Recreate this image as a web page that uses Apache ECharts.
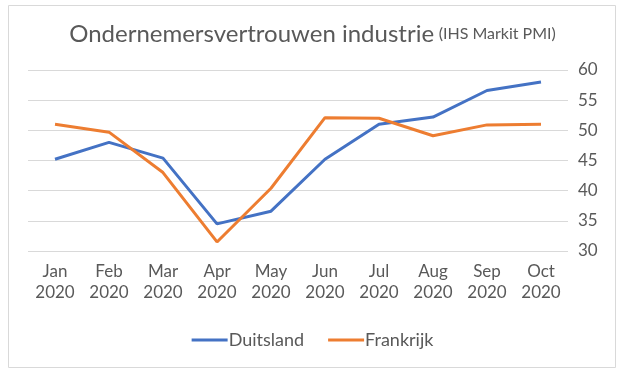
<!DOCTYPE html>
<html><head><meta charset="utf-8">
<script src="https://cdn.jsdelivr.net/npm/echarts@6/dist/echarts.min.js"></script>
<style>html,body{margin:0;padding:0;background:#fff}#c{width:625px;height:375px}</style>
</head><body><div id="c"></div>
<script>
var months = ['Jan\n2020','Feb\n2020','Mar\n2020','Apr\n2020','May\n2020','Jun\n2020','Jul\n2020','Aug\n2020','Sep\n2020','Oct\n2020'];
var duitsland = [45.2, 48.0, 45.4, 34.5, 36.6, 45.2, 51.0, 52.2, 56.6, 58.0];
var frankrijk = [51.0, 49.7, 43.0, 31.5, 40.4, 52.1, 52.0, 49.1, 50.9, 51.0];
var yTicks = {min: 30, max: 60, interval: 5};

var chart = echarts.init(document.getElementById('c'));
var font = 'Lato, "Liberation Sans", sans-serif';
chart.setOption({
  animation: false,
  textStyle: {fontFamily: font},
  graphic: [{type: 'rect', shape: {x: 8.5, y: 5.5, width: 607, height: 362}, style: {fill: 'none', stroke: '#d9d9d9', lineWidth: 1}, z: -1}],
  title: {
    text: '{a|Ondernemersvertrouwen industrie} {b|(IHS Markit PMI)}',
    left: 'center', top: 17,
    textStyle: {fontWeight: 'normal', rich: {
      a: {fontSize: 24, color: '#595959', fontFamily: font, fontWeight: 'normal'},
      b: {fontSize: 16, color: '#595959', fontFamily: font, fontWeight: 'normal'}
    }}
  },
  legend: {
    bottom: 21, left: 'center',
    icon: 'rect', itemWidth: 36, itemHeight: 3, itemGap: 24,
    textStyle: {fontSize: 18, color: '#595959', fontFamily: font, padding: [0,0,0,-4]},
    data: ['Duitsland', 'Frankrijk']
  },
  grid: {left: 28, right: 57, top: 70, bottom: 124},
  xAxis: {
    type: 'category', data: months, boundaryGap: true,
    axisLine: {show: false}, axisTick: {show: false},
    axisLabel: {fontSize: 17, color: '#595959', lineHeight: 21, margin: 10, interval: 0, fontFamily: font}
  },
  yAxis: {
    type: 'value', position: 'right', min: yTicks.min, max: yTicks.max, interval: yTicks.interval,
    axisLine: {show: false}, axisTick: {show: false},
    splitLine: {lineStyle: {color: '#d9d9d9', width: 1}},
    axisLabel: {fontSize: 17, color: '#595959', margin: 10, fontFamily: font}
  },
  series: [
    {name: 'Duitsland', type: 'line', data: duitsland, symbol: 'none', lineStyle: {width: 3, color: '#4472C4'}, itemStyle: {color: '#4472C4'}},
    {name: 'Frankrijk', type: 'line', data: frankrijk, symbol: 'none', lineStyle: {width: 3, color: '#ED7D31'}, itemStyle: {color: '#ED7D31'}}
  ]
});
</script></body></html>
